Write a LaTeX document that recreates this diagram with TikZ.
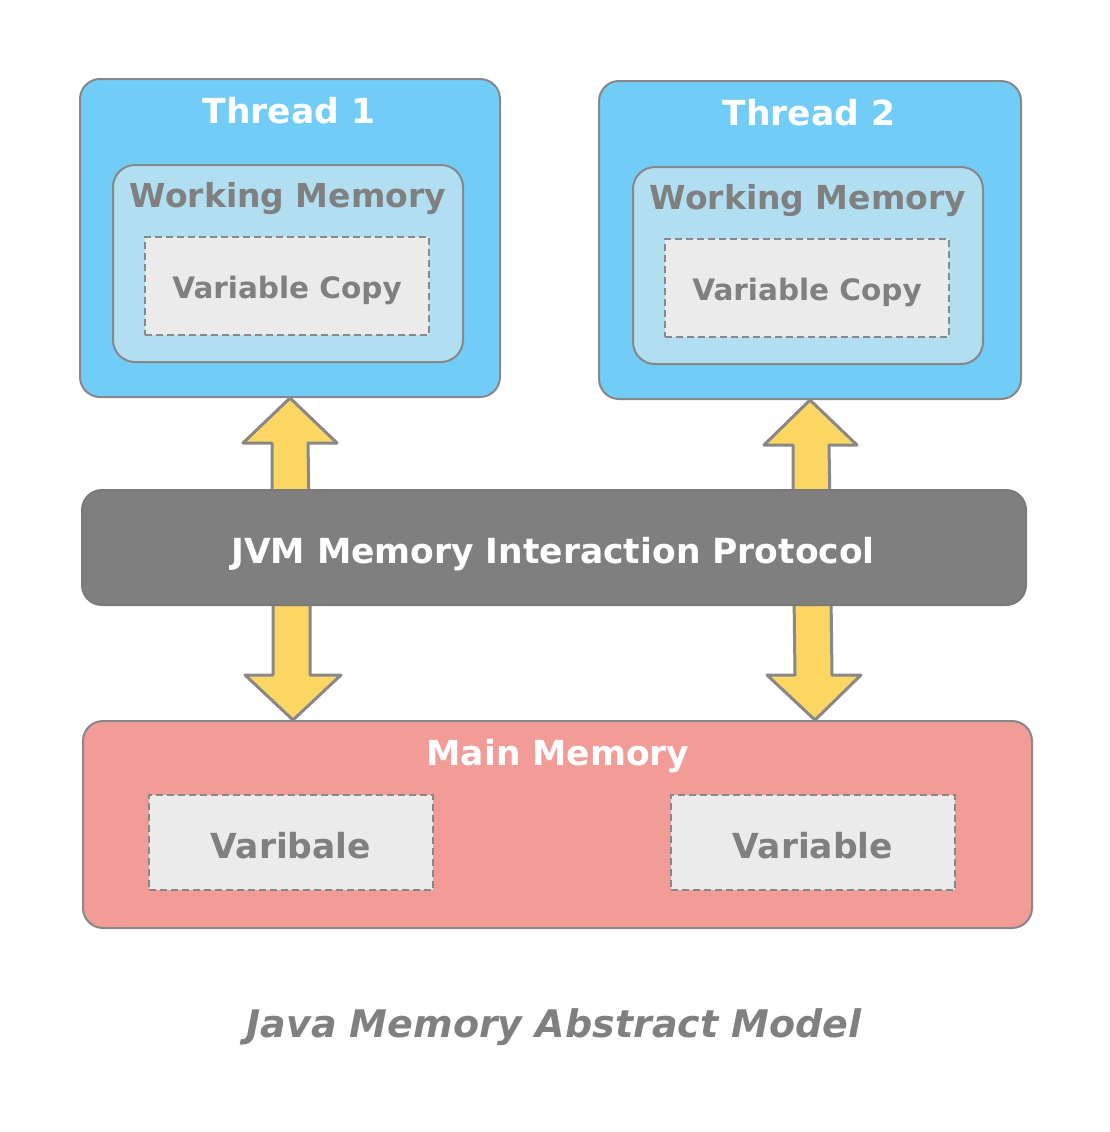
\documentclass[tikz,border=0pt]{standalone}
\usepackage{fontspec}
\setmainfont{DejaVu Sans}
\usetikzlibrary{calc}
\definecolor{threadfill}{HTML}{71CCF8}
\definecolor{wmfill}{HTML}{B1DEF0}
\definecolor{varfill}{HTML}{EBEBEB}
\definecolor{mainfill}{HTML}{F19C97}
\definecolor{arrfill}{HTML}{FCD663}
\definecolor{edge}{HTML}{888888}
\definecolor{txtgray}{HTML}{808080}
\definecolor{barfill}{HTML}{7F7F7F}
\tikzset{
  box/.style={draw=edge, line width=2pt, rounded corners=20pt, inner sep=0pt},
  threadbox/.style={box, fill=threadfill},
  wmbox/.style={box, fill=wmfill, rounded corners=22pt},
  varbox/.style={draw=edge, line width=1.6pt, dash pattern=on 7pt off 4pt, fill=varfill, inner sep=0pt},
  barbox/.style={box, fill=barfill, draw=edge!90!black},
  mainbox/.style={box, fill=mainfill},
  arr/.style={draw=edge, line width=3pt, fill=arrfill, line join=round},
  wtitle/.style={anchor=base, text=white, font=\bfseries\fontsize{34.5}{40}\selectfont},
  gtitle/.style={anchor=base, text=txtgray, font=\bfseries\fontsize{33}{40}\selectfont},
  gsmall/.style={anchor=base, text=txtgray, font=\bfseries\fontsize{29.5}{36}\selectfont},
  gvar/.style={anchor=base, text=txtgray, font=\bfseries\fontsize{34.5}{40}\selectfont},
}
\begin{document}
\begin{tikzpicture}[x=1pt,y=-1pt]
\useasboundingbox[fill=white] (0,0) rectangle (1110,1132);
% boxes
\node[threadbox, minimum width=420pt, minimum height=318pt] (t1) at (290,238) {};
\node[wmbox, minimum width=350pt, minimum height=197pt] (w1) at (288,263.5) {};
\node[varbox, minimum width=284pt, minimum height=98pt] (v1) at (287,286) {};
\node[threadbox, minimum width=422pt, minimum height=318pt] (t2) at (810,240) {};
\node[wmbox, minimum width=350pt, minimum height=197pt] (w2) at (808,265.5) {};
\node[varbox, minimum width=284pt, minimum height=98pt] (v2) at (807,288) {};
\node[mainbox, minimum width=949pt, minimum height=207pt] (mm) at (557.5,824.5) {};
\node[varbox, minimum width=284pt, minimum height=95pt] (m1) at (291,842.5) {};
\node[varbox, minimum width=284pt, minimum height=95pt] (m2) at (813,842.5) {};
% arrows (behind the bar)
\draw[arr] (t1.south) -- ++(47,45) -- ++(-29,0) -- ++(1,60) -- ++(-37,0) -- ++(0,-60) -- ++(-29,0) -- cycle;
\draw[arr] (t2.south) -- ++(47,45) -- ++(-28,0) -- ++(1,60) -- ++(-37,0) -- ++(0,-60) -- ++(-29,0) -- cycle;
\draw[arr] ([xshift=5pt]mm.north -| w1.south) coordinate (d1) -- ++(48,-45) -- ++(-31,0) -- ++(0,-80) -- ++(-37,0) -- ++(0,80) -- ++(-28,0) -- cycle;
\draw[arr] ([xshift=7pt]mm.north -| w2.south) coordinate (d2) -- ++(46,-45) -- ++(-29,0) -- ++(-1,-80) -- ++(-37,0) -- ++(1,80) -- ++(-28,0) -- cycle;
% bar
\node[barbox, minimum width=944pt, minimum height=115pt] (jvm) at (554,547.5) {};
% texts
\node[wtitle] at (289,123) {Thread 1};
\node[wtitle] at (809,125) {Thread 2};
\node[gtitle] at (288,207) {Working Memory};
\node[gtitle] at (808,209) {Working Memory};
\node[gsmall] at (287,298) {Variable Copy};
\node[gsmall] at (807,300) {Variable Copy};
\node[wtitle] at (553,563) {JVM Memory Interaction Protocol};
\node[wtitle] at (558,765) {Main Memory};
\node[gvar] at (291,858) {Varibale};
\node[gvar] at (813,858) {Variable};
\node[anchor=base, text=txtgray, font=\bfseries\itshape\fontsize{38}{44}\selectfont] (cap) at (554,1037) {Java Memory Abstract Model};
\end{tikzpicture}
\end{document}
